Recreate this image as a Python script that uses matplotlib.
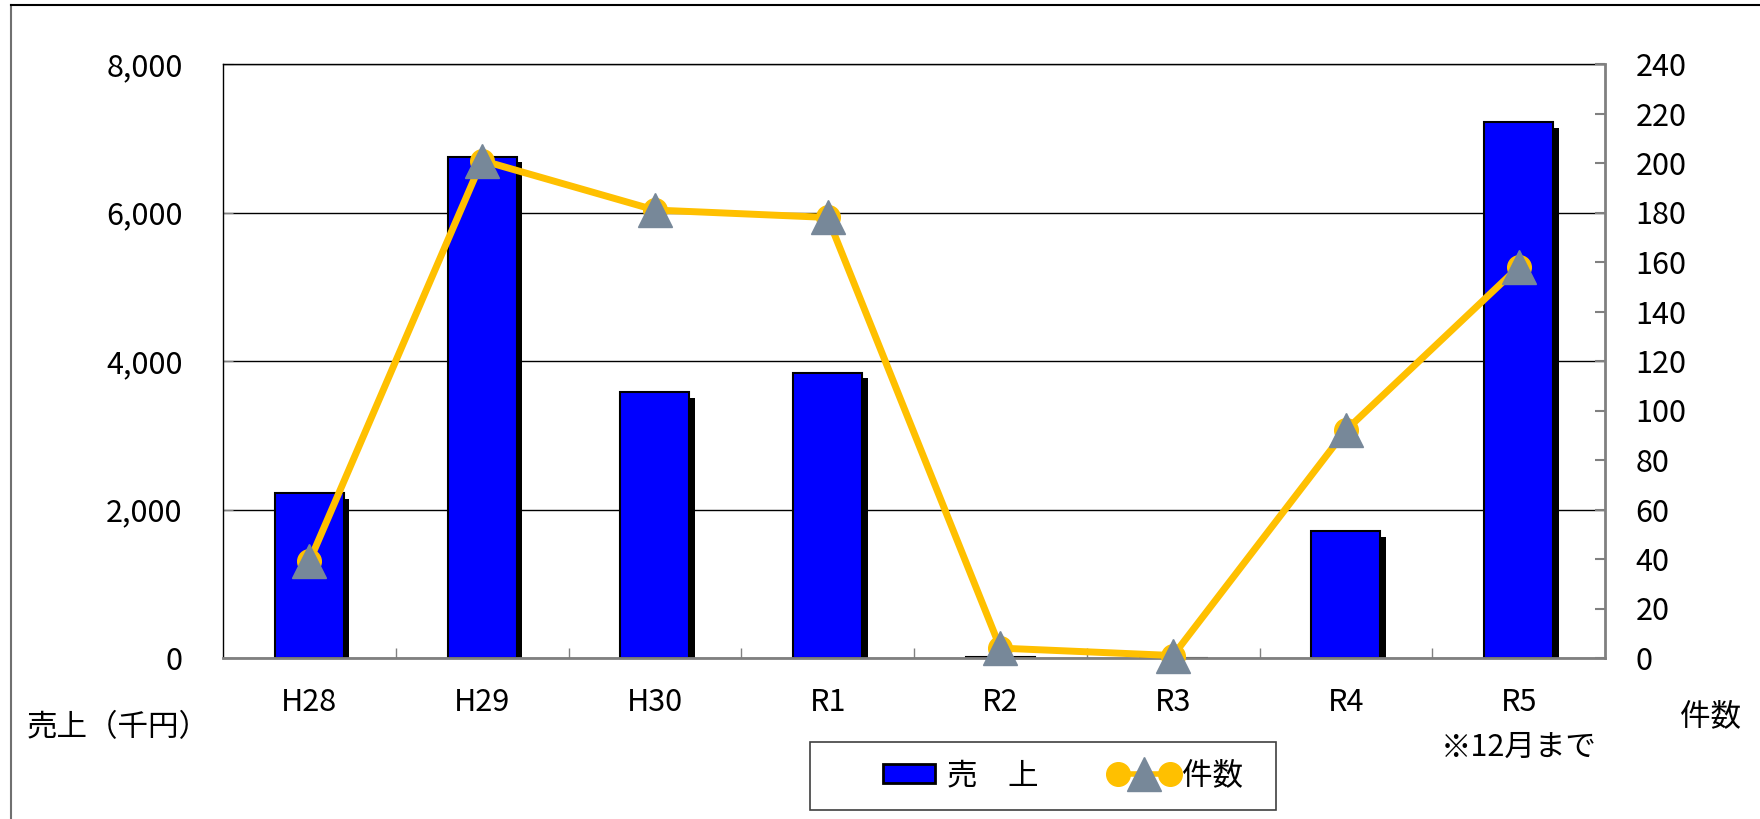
import matplotlib
matplotlib.use('Agg')
import matplotlib.pyplot as plt
from matplotlib.lines import Line2D
from matplotlib.patches import Rectangle, Patch
from matplotlib.legend_handler import HandlerTuple, HandlerLine2D
from matplotlib import patheffects as pe
from matplotlib.ticker import FuncFormatter, FixedLocator

plt.rcParams['font.family'] = ['Noto Sans CJK JP', 'DejaVu Sans']

# data
years = ['H28', 'H29', 'H30', 'R1', 'R2', 'R3', 'R4', 'R5\n※12月まで']
sales = [2220, 6750, 3580, 3845, 20, 0, 1710, 7215]   # 売上 (千円)
counts = [39, 201, 181, 178, 4, 1, 92, 158]           # 件数

BLUE = '#0000FF'
ORANGE = '#FFC000'
SLATE = '#778899'
W, H = 1760, 819
FS = 22

fig = plt.figure(figsize=(W / 100, H / 100), dpi=100)
ax = fig.add_axes([223 / W, (H - 658) / H, (1605 - 223) / W, (658 - 64) / H])
x = list(range(len(years)))

shadow = [pe.SimplePatchShadow(offset=(4, -4), shadow_rgbFace='black', alpha=1.0), pe.Normal()]
ax.bar(x, sales, width=0.4, color=BLUE, edgecolor='black', linewidth=1.5,
       path_effects=shadow, zorder=2)

ax.set_xlim(-0.5, len(years) - 0.5)
ax.set_ylim(0, 8000)
ax.set_yticks(range(0, 8001, 2000))
ax.yaxis.set_major_formatter(FuncFormatter(lambda v, p: f'{v:,.0f}'))
ax.yaxis.grid(True, color='black', linewidth=1)
ax.set_axisbelow(True)

ax.set_xticks(x)
ax.set_xticklabels(years, fontsize=FS, linespacing=1.55)
ax.xaxis.set_minor_locator(FixedLocator([i + 0.5 for i in range(len(years) - 1)]))
ax.tick_params(axis='x', which='major', length=0, pad=21)
ax.tick_params(axis='x', which='minor', direction='in', length=7, color='#808080', width=1)
ax.tick_params(axis='y', direction='in', length=7, color='#808080', labelsize=FS, pad=29)

for s in ['top', 'left']:
    ax.spines[s].set_color('black')
    ax.spines[s].set_linewidth(1)
ax.spines['bottom'].set_color('#808080')
ax.spines['bottom'].set_linewidth(2)
ax.spines['right'].set_visible(False)

ax2 = ax.twinx()
ax2.set_ylim(0, 240)
ax2.set_yticks(range(0, 241, 20))
ax2.tick_params(axis='y', direction='in', length=7, color='#808080', width=1.5,
                labelsize=FS, pad=22)
ax2.spines['right'].set_color('#808080')
ax2.spines['right'].set_linewidth(2)
for s in ['top', 'left', 'bottom']:
    ax2.spines[s].set_visible(False)

ax2.plot(x, counts, color=ORANGE, linewidth=5, marker='o', markersize=17,
         markerfacecolor=ORANGE, markeredgecolor=ORANGE, zorder=3, clip_on=False)
ax2.plot(x, counts, linestyle='none', marker='^', markersize=24,
         markerfacecolor=SLATE, markeredgecolor=SLATE, zorder=4, clip_on=False)

# axis titles
fig.text(27 / W, (H - 728) / H, '売上（千円）', fontsize=FS, ha='left', va='center')
fig.text(1680 / W, (H - 717) / H, '件数', fontsize=FS, ha='left', va='center')

# legend
bar_h = Patch(facecolor=BLUE, edgecolor='black', linewidth=2)
line_h = Line2D([], [], color=ORANGE, linewidth=4, marker='o', markersize=17,
                markerfacecolor=ORANGE, markeredgecolor=ORANGE)
tri_h = Line2D([], [], linestyle='none', marker='^', markersize=24,
               markerfacecolor=SLATE, markeredgecolor=SLATE)
leg = fig.legend([bar_h, (line_h, tri_h)], ['売\u3000上', '件数'],
                 handler_map={tuple: HandlerTuple(ndivide=1),
                              line_h: HandlerLine2D(marker_pad=0, numpoints=2),
                              tri_h: HandlerLine2D(marker_pad=0, numpoints=1)},
                 loc='center left', bbox_to_anchor=(883 / W, (H - 776) / H),
                 ncol=2, frameon=False, fontsize=FS, borderpad=0, borderaxespad=0,
                 handlelength=1.7, handleheight=0.55, handletextpad=0.4,
                 columnspacing=2.6)
fig.add_artist(Rectangle((810 / W, (H - 810) / H), (1276 - 810) / W, (810 - 742) / H,
                         transform=fig.transFigure, fill=False, edgecolor='#404040',
                         linewidth=1.2))

# outer chart frame (runs off the right and bottom edges)
fig.add_artist(Line2D([11 / W, 11 / W], [0, (H - 5) / H], transform=fig.transFigure,
                      color='#707070', linewidth=1.5))
fig.add_artist(Line2D([11 / W, 1], [(H - 5) / H, (H - 5) / H], transform=fig.transFigure,
                      color='black', linewidth=1.5))

fig.savefig('out.png', dpi=100)
